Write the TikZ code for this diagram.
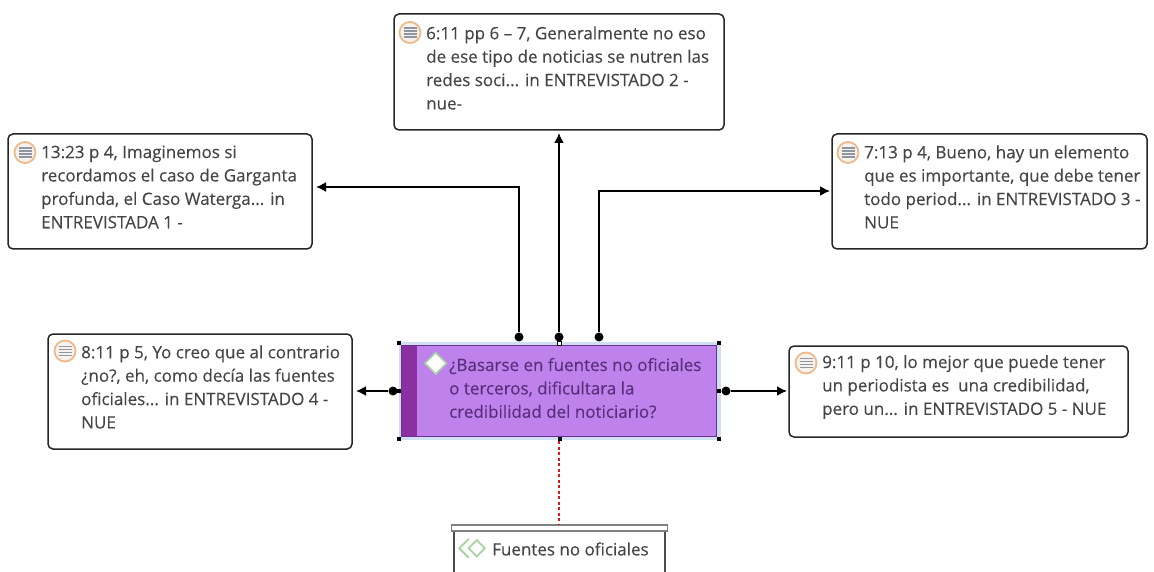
\documentclass[tikz,border=0pt]{standalone}
\usepackage{fontspec}
\usepackage{xcolor}
\usetikzlibrary{shapes.geometric, arrows.meta}
\setmainfont[FakeBold=0.2]{Open Sans}
\definecolor{quoteink}{HTML}{454545}
\definecolor{noteorange}{HTML}{F0B98A}
\definecolor{notefill}{HTML}{F6F3EE}
\definecolor{notebar}{HTML}{8F96A2}
\definecolor{issuefill}{HTML}{BF82EC}
\definecolor{issuebar}{HTML}{8B2FA3}
\definecolor{issueedge}{HTML}{6E2E90}
\definecolor{issueink}{HTML}{57307A}
\definecolor{issuehalo}{HTML}{CFE0F4}
\definecolor{codegreen}{HTML}{A9D3A0}
\definecolor{linkred}{HTML}{D81818}
\tikzset{
    quotebox/.style={draw=black!85, line width=1.5pt, rounded corners=5pt, fill=white, inner sep=0pt},
    quotetext/.style={anchor=west, align=left, inner sep=0pt, text=quoteink, font=\fontsize{17}{23.4}\selectfont},
    noteicon/.style={circle, draw=noteorange, line width=1.8pt, fill=notefill, minimum size=21pt, inner sep=0pt},
    dot/.style={circle, fill=black, minimum size=9pt, inner sep=0pt},
    handle/.style={rectangle, fill=black, minimum size=4pt, inner sep=0pt},
    link/.style={-{Latex[length=10pt, width=10pt]}, line width=1.6pt}
}
\begin{document}
\begin{tikzpicture}[x=1pt, y=-1pt]
    \clip (0,0) rectangle (1154,572);

    % Quotations
    \node[quotebox, minimum width=304pt, minimum height=115pt] (q13) at (160,191.5) {};
    \node[quotebox, minimum width=330pt, minimum height=116pt] (q6) at (559,72) {};
    \node[quotebox, minimum width=315pt, minimum height=115pt] (q7) at (989.5,191.5) {};
    \node[quotebox, minimum width=304pt, minimum height=115pt] (q8) at (200,391.5) {};
    \node[quotebox, minimum width=339pt, minimum height=91pt] (q9) at (958.5,391.5) {};

    \node[quotetext] (t13) at (41,187) {13:23 p 4, Imaginemos si\\recordamos el caso de Garganta\\profunda, el Caso Waterga... in\\ENTREVISTADA 1 -};
    \node[quotetext] (t6) at (426,68) {6:11 pp 6 -- 7, Generalmente no eso\\de ese tipo de noticias se nutren las\\redes soci... in ENTREVISTADO 2 -\\nue-};
    \node[quotetext] (t7) at (864,187) {7:13 p 4, Bueno, hay un elemento\\que es importante, que debe tener\\todo period... in ENTREVISTADO 3 -\\NUE};
    \node[quotetext] (t8) at (81,387) {8:11 p 5, Yo creo que al contrario\\¿no?, eh, como decía las fuentes\\oficiales... in ENTREVISTADO 4 -\\NUE};
    \node[quotetext] (t9) at (822,387) {9:11 p 10, lo mejor que puede tener\\un periodista es\ \ una credibilidad,\\pero un... in ENTREVISTADO 5 - NUE};

    % Note icons
    \foreach \name/\px/\py in {i13/25/152.5, i6/410/32.5, i7/848/152.5, i8/65/351, i9/806/363} {
        \node[noteicon] (\name) at (\px,\py) {};
        \foreach \dy in {-4.5,-1.5,1.5,4.5}
            \draw[notebar, line width=1.3pt] ([shift={(-6.5pt,\dy pt)}]\name.center) -- ([shift={(6.5pt,\dy pt)}]\name.center);
    }

    % Question
    \node[rectangle, fill=issuehalo, minimum width=322pt, minimum height=98pt, inner sep=0pt] (halo) at (559.5,391.3) {};
    \node[rectangle, draw=issueedge, line width=1.3pt, fill=issuefill, minimum width=315pt, minimum height=91.4pt, inner sep=0pt] (issue) at (559.2,391) {};
    \node[rectangle, fill=issuebar, minimum width=15.6pt, minimum height=90.4pt, inner sep=0pt] (bar) at (409.5,391) {};
    \node[diamond, draw=codegreen, line width=1.6pt, fill=white, minimum size=22pt, inner sep=0pt] (mark) at (435.7,363.3) {};
    \node[quotetext, text=issueink] (question) at (449,388) {¿Basarse en fuentes no oficiales\\o terceros, dificultara la\\credibilidad del noticiario?};

    % Handles
    \foreach \px/\py in {399.3/343.3, 719.3/343.3, 399.3/439.3, 719.3/439.3, 399.3/391.3, 719.3/391.3, 559.7/439.3}
        \node[handle] at (\px,\py) {};
    \node[handle, fill=white, draw=black, line width=0.6pt, minimum size=4pt] (top) at (559.7,343.3) {};

    % Code
    \node[rectangle, draw=black!70, line width=1.5pt, fill=white, minimum width=211pt, minimum height=80pt, inner sep=0pt] (code) at (559.7,570) {};
    \node[rectangle, draw=black!50, line width=1.5pt, fill=white, minimum width=216pt, minimum height=6pt, inner sep=0pt] (lid) at (559.7,528) {};
    \node[diamond, draw=codegreen, line width=1.8pt, fill=white, minimum size=17pt, inner sep=0pt] (codemark) at (476.7,548.3) {};
    \draw[codegreen, line width=1.8pt] ([xshift=-8pt]codemark.north) -- ([xshift=-8pt]codemark.west) -- ([xshift=-8pt]codemark.south);
    \node[quotetext] (codename) at (492,549) {Fuentes no oficiales};

    % Connector ends
    \node[dot] (d13) at (519,337) {};
    \node[dot] (d6) at (559,337) {};
    \node[dot] (d7) at (599,337) {};
    \node[dot] (d8) at (393,391) {};
    \node[dot] (d9) at (726,391) {};
    \coordinate (a13) at (316,187);
    \coordinate (a6) at (559,133);
    \coordinate (a7) at (830,191);
    \coordinate (a8) at (356,391);
    \coordinate (a9) at (787,391);
    \coordinate (r1) at (559,441);
    \coordinate (r2) at (559,524);

    % Arrows
    \draw[link] (d13) |- (a13);
    \draw[link] (d6) -- (a6);
    \draw[link] (d7) |- (a7);
    \draw[link] (d8) -- (a8);
    \draw[link] (d9) -- (a9);
    \draw[linkred, line width=1.6pt, dash pattern=on 3pt off 2.5pt] (r1) -- (r2);
\end{tikzpicture}
\end{document}
